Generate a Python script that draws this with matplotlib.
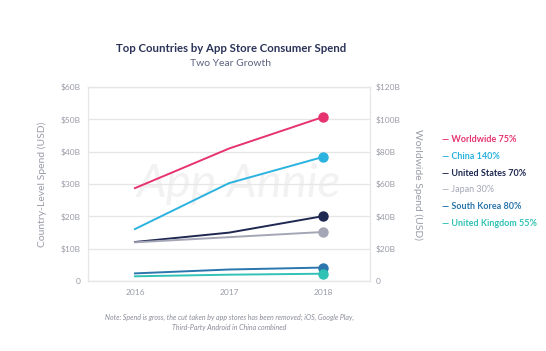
import numpy as np
import matplotlib
matplotlib.use('Agg')
import matplotlib.pyplot as plt

plt.rcParams['font.family'] = ['Lato', 'DejaVu Sans']

# data (USD billions)
years = [2016, 2017, 2018]
worldwide = [57.5, 82.0, 101.5]      # right axis
china = [16.1, 30.3, 38.4]
united_states = [12.1, 15.0, 20.1]
japan = [12.0, 13.6, 15.2]
south_korea = [2.4, 3.6, 4.2]
united_kingdom = [1.5, 2.0, 2.3]

series_names = ['Worldwide 75%', 'China 140%', 'United States 70%', 'Japan 30%',
                'South Korea 80%', 'United Kingdom 55%']
country_series = [china, united_states, japan, south_korea, united_kingdom]
colors = ['#e6336f', '#2bb3e0', '#1e2850', '#a4a6b6', '#2a76ad', '#30c2b4']

left_ticks = [0, 10, 20, 30, 40, 50, 60]
right_ticks = [0, 20, 40, 60, 80, 100, 120]

fig = plt.figure(figsize=(5.46, 3.51), dpi=100)
ax = fig.add_axes([0.161, 0.199, 0.517, 0.553])
ax2 = ax.twinx()

grid_c = '#e6e6e6'
for s in ['top', 'right', 'left', 'bottom']:
    ax.spines[s].set_color(grid_c)
    ax2.spines[s].set_color(grid_c)
ax.set_ylim(0, 60)
ax2.set_ylim(0, 120)
ax.set_xlim(2015.5, 2018.5)
ax.set_yticks(left_ticks)
ax.set_yticklabels(['0' if v == 0 else '$%dB' % v for v in left_ticks])
ax2.set_yticks(right_ticks)
ax2.set_yticklabels(['0' if v == 0 else '$%dB' % v for v in right_ticks])
ax.set_xticks(years)
ax.set_xticklabels([str(y) for y in years])
ax.grid(axis='y', color=grid_c, lw=0.9)
ax.set_axisbelow(True)
tick_c = '#9a9ca8'
ax.tick_params(length=0, labelsize=6, colors=tick_c, pad=5)
ax.tick_params(axis='x', pad=6)
ax2.tick_params(length=0, labelsize=6, colors=tick_c, pad=4)

ax.set_ylabel('Country-Level Spend (USD)', fontsize=7.5, color=tick_c, labelpad=10)
ax2.set_ylabel('Worldwide Spend (USD)', fontsize=7.5, color=tick_c,
               rotation=270, labelpad=16)

# faint watermark
ax.text(2017.1, 30, 'App Annie', fontsize=34, style='italic', color='#f2f2f2',
        ha='center', va='center', zorder=0)

for vals, c in zip(country_series, colors[1:]):
    ax.plot(years, vals, color=c, lw=1.4, zorder=3)
    ax.plot(years[-1], vals[-1], 'o', color=c, ms=6.5, zorder=4)
ax2.plot(years, worldwide, color=colors[0], lw=1.4, zorder=3)
ax2.plot(years[-1], worldwide[-1], 'o', color=colors[0], ms=6.5, zorder=4)

# legend as colored text
ly = [0.603, 0.555, 0.507, 0.459, 0.411, 0.363]
for name, c, y in zip(series_names, colors, ly):
    w = 'normal' if name.startswith('Japan') else 'bold'
    fig.text(0.81, y, '\u2014 ' + name, color=c, fontsize=6.5, fontweight=w,
             va='center', ha='left')

fig.text(0.423, 0.852, 'Top Countries by App Store Consumer Spend', ha='center',
         fontsize=8.2, fontweight='bold', color='#2b3358')
fig.text(0.423, 0.812, 'Two Year Growth', ha='center', fontsize=7.5, color='#5c6380')
fig.text(0.42, 0.08, 'Note: Spend is gross, the cut taken by app stores has been removed; iOS, Google Play,\n'
         'Third-Party Android in China combined', ha='center', va='center',
         fontsize=5, style='italic', color='#8a8c99', linespacing=1.5)

fig.savefig('out.png', dpi=100)
